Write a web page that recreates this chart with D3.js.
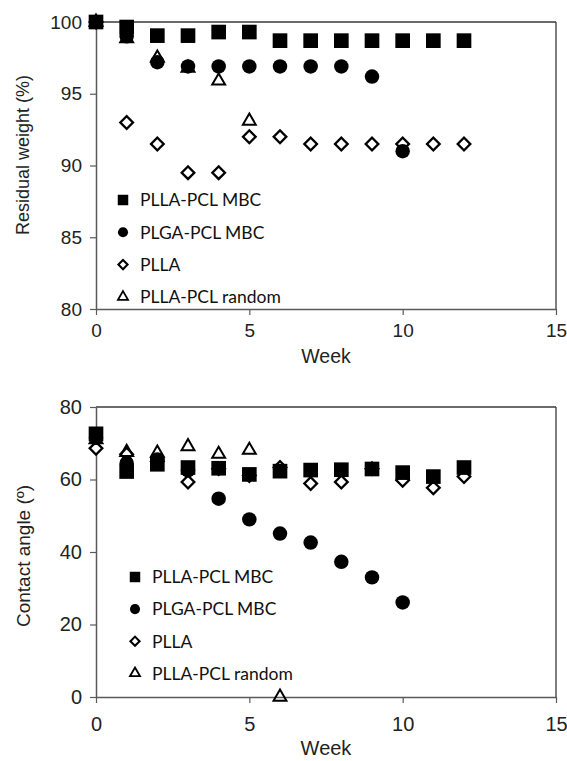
<!DOCTYPE html>
<html>
<head>
<meta charset="utf-8">
<script src="https://cdn.jsdelivr.net/npm/d3@7"></script>
<style>
  html, body { margin: 0; padding: 0; background: #fff; }
  svg { display: block; }
</style>
</head>
<body>
<svg id="chart" width="567" height="761"></svg>
<script>
// Series names, in legend order
const seriesNames = ["PLLA-PCL MBC", "PLGA-PCL MBC", "PLLA", "PLLA-PCL random"];

// Residual weight (%) per week
const weightWeeks = {
  "PLLA-PCL MBC":    [0, 1, 2, 3, 4, 5, 6, 7, 8, 9, 10, 11, 12],
  "PLGA-PCL MBC":    [0, 1, 2, 3, 4, 5, 6, 7, 8, 9, 10],
  "PLLA":            [0, 1, 2, 3, 4, 5, 6, 7, 8, 9, 10, 11, 12],
  "PLLA-PCL random": [0, 1, 2, 3, 4, 5]
};
const weightPllaPclMbc = [100, 99.65, 99.05, 99.05, 99.3, 99.3, 98.7, 98.7, 98.7, 98.7, 98.7, 98.7, 98.7];
const weightPlgaPclMbc = [100, 99.0, 97.2, 96.9, 96.9, 96.9, 96.9, 96.9, 96.9, 96.2, 91.0];
const weightPlla       = [100, 93.0, 91.5, 89.5, 89.5, 92.0, 92.0, 91.5, 91.5, 91.5, 91.5, 91.5, 91.5];
const weightPllaPclRnd = [100, 98.85, 97.5, 96.8, 95.9, 93.1];

// Contact angle (°) per week
const angleWeeks = {
  "PLLA-PCL MBC":    [0, 1, 2, 3, 4, 5, 6, 7, 8, 9, 10, 11, 12],
  "PLGA-PCL MBC":    [0, 1, 2, 3, 4, 5, 6, 7, 8, 9, 10],
  "PLLA":            [0, 1, 2, 3, 4, 5, 6, 7, 8, 9, 10, 11, 12],
  "PLLA-PCL random": [0, 1, 2, 3, 4, 5, 6]
};
const anglePllaPclMbc = [72.6, 62.2, 64.2, 63.3, 63.1, 61.4, 62.3, 62.6, 62.7, 62.9, 61.9, 60.8, 63.3];
const anglePlgaPclMbc = [71.5, 64.5, 65.5, 62.5, 54.7, 49.0, 45.1, 42.6, 37.3, 33.0, 26.1];
const anglePlla       = [68.6, 67.0, 65.0, 59.3, 63.0, 61.1, 63.3, 58.9, 59.3, 63.0, 59.8, 57.7, 60.8];
const anglePllaPclRnd = [71.0, 67.5, 67.3, 69.1, 67.0, 68.1, 0];

// Axis ticks
const weekTicks = [0, 5, 10, 15];
const weightTicks = [80, 85, 90, 95, 100];
const angleTicks = [0, 20, 40, 60, 80];

const svg = d3.select("#chart");
const axisColor = "#5a5a5a";
const tickFont = "'Liberation Sans', Arial, sans-serif";
const legendFont = "Lato, 'Open Sans', sans-serif";

// Marker shapes per series: plot size and legend size (d3 symbol areas)
const markers = {
  "PLLA-PCL MBC":    { type: d3.symbolSquare,   size: 215, legendSize: 110, fill: "#000", stroke: "none", sw: 0, rot: 0 },
  "PLGA-PCL MBC":    { type: d3.symbolCircle,   size: 165, legendSize: 80,  fill: "#000", stroke: "none", sw: 0, rot: 0 },
  "PLLA":            { type: d3.symbolSquare,   size: 80,  legendSize: 42,  fill: "#fff", stroke: "#000", sw: 2.3, rot: 45 },
  "PLLA-PCL random": { type: d3.symbolTriangle, size: 72,  legendSize: 44,  fill: "none", stroke: "#000", sw: 2.0, rot: 0 }
};
// Drawing order (later = on top)
const drawOrder = ["PLLA", "PLLA-PCL random", "PLGA-PCL MBC", "PLLA-PCL MBC"];

function drawPanel(cfg) {
  const x = d3.scaleLinear().domain([0, 15]).range([96, 556]);
  const y = d3.scaleLinear().domain(cfg.yDomain).range(cfg.yRange);
  const g = svg.append("g");

  // Frame: top and right borders
  g.append("line").attr("x1", x(0)).attr("x2", x(15)).attr("y1", y.range()[1]).attr("y2", y.range()[1])
    .attr("stroke", "#3a3a3a").attr("stroke-width", 1.3);
  g.append("line").attr("x1", x(15)).attr("x2", x(15)).attr("y1", y.range()[1]).attr("y2", y.range()[0])
    .attr("stroke", "#3a3a3a").attr("stroke-width", 1.3);

  // Y axis
  const yAxis = g.append("g").attr("transform", `translate(${x(0)},0)`)
    .call(d3.axisLeft(y).tickValues(cfg.yTicks).tickSize(6).tickPadding(8).tickSizeOuter(0));
  // X axis
  const xAxis = g.append("g").attr("transform", `translate(0,${y.range()[0]})`)
    .call(d3.axisBottom(x).tickValues(weekTicks).tickSize(6).tickPadding(cfg.xPad).tickSizeOuter(0));

  [yAxis, xAxis].forEach(a => {
    a.select(".domain").attr("stroke", axisColor).attr("stroke-width", 1.5);
    a.selectAll(".tick line").attr("stroke", axisColor).attr("stroke-width", 1.2);
    a.selectAll(".tick text").attr("font-family", tickFont).attr("font-size", cfg.tickSize).attr("fill", "#222");
  });

  // Axis titles
  g.append("text").attr("x", 326).attr("y", cfg.xTitleY).attr("text-anchor", "middle")
    .attr("font-family", tickFont).attr("font-size", cfg.xTitleSize).attr("fill", "#222").text("Week");
  g.append("text").attr("transform", `translate(${cfg.yTitleX},${cfg.yTitleCy}) rotate(-90)`)
    .attr("text-anchor", "middle").attr("font-family", tickFont).attr("font-size", cfg.yTitleSize)
    .attr("fill", "#222").text(cfg.yTitle);

  // Data markers
  drawOrder.forEach(name => {
    const m = markers[name];
    const sym = d3.symbol().type(m.type).size(m.size);
    const pts = cfg.weeks[name].map((w, i) => ({ w, v: cfg.values[name][i] }));
    g.append("g").selectAll("path").data(pts).join("path")
      .attr("d", sym)
      .attr("transform", d => `translate(${x(d.w)},${y(d.v)}) rotate(${m.rot})`)
      .attr("fill", m.fill).attr("stroke", m.stroke).attr("stroke-width", m.sw)
      .attr("stroke-linejoin", "miter");
  });

  // Legend
  const lg = g.append("g");
  seriesNames.forEach((name, i) => {
    const m = markers[name];
    const cy = cfg.legendY + i * cfg.legendStep;
    lg.append("path").attr("d", d3.symbol().type(m.type).size(m.legendSize))
      .attr("transform", `translate(${cfg.legendX},${cy}) rotate(${m.rot})`)
      .attr("fill", m.fill).attr("stroke", m.stroke).attr("stroke-width", m.sw * 0.9);
    lg.append("text").attr("x", cfg.legendX + 17).attr("y", cy).attr("dy", "0.36em")
      .attr("font-family", legendFont).attr("font-size", 17.5).attr("fill", "#111").text(name);
  });
}

drawPanel({
  yDomain: [80, 100], yRange: [309, 22], yTicks: weightTicks,
  weeks: weightWeeks,
  values: {
    "PLLA-PCL MBC": weightPllaPclMbc, "PLGA-PCL MBC": weightPlgaPclMbc,
    "PLLA": weightPlla, "PLLA-PCL random": weightPllaPclRnd
  },
  tickSize: 19, xPad: 9, xTitleY: 363, xTitleSize: 19.5,
  yTitleX: 29, yTitleCy: 155, yTitleSize: 18, yTitle: "Residual weight (%)",
  legendX: 123, legendY: 200, legendStep: 32.3
});

drawPanel({
  yDomain: [0, 80], yRange: [697, 407], yTicks: angleTicks,
  weeks: angleWeeks,
  values: {
    "PLLA-PCL MBC": anglePllaPclMbc, "PLGA-PCL MBC": anglePlgaPclMbc,
    "PLLA": anglePlla, "PLLA-PCL random": anglePllaPclRnd
  },
  tickSize: 20, xPad: 14, xTitleY: 755, xTitleSize: 20,
  yTitleX: 30, yTitleCy: 556, yTitleSize: 19, yTitle: "Contact angle (º)",
  legendX: 135, legendY: 577, legendStep: 32.1
});
</script>
</body>
</html>
